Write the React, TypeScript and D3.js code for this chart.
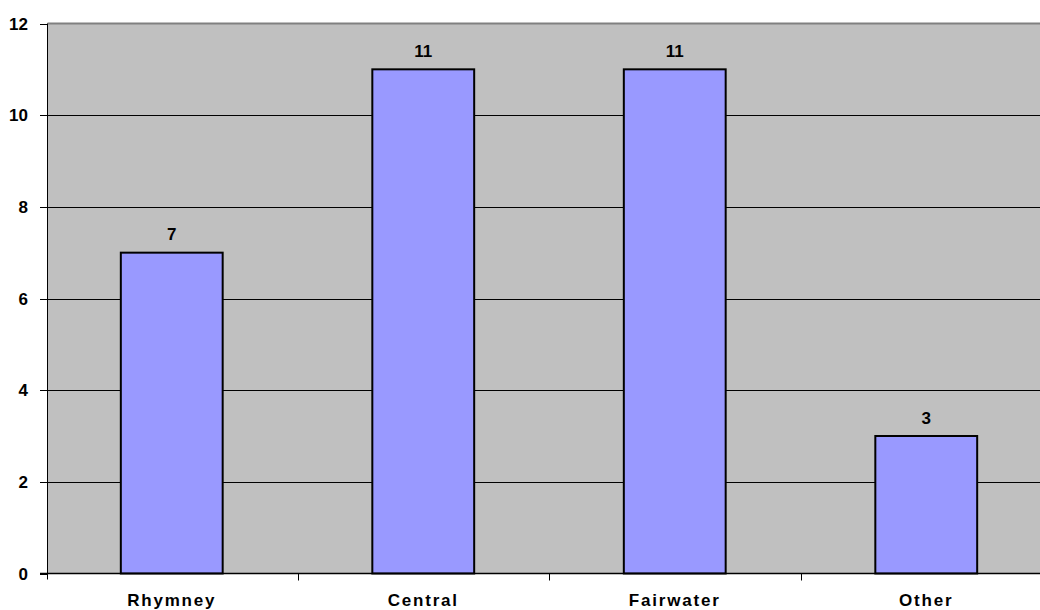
import React from "react";
import * as d3 from "d3";

const categories = ["Rhymney", "Central", "Fairwater", "Other"];
const values = [7, 11, 11, 3];
const yTicks = [0, 2, 4, 6, 8, 10, 12];

const W = 1040;
const H = 610;
const left = 46;
const plotRight = 1052;
const top = 23.5;
const bottom = 573.5;

export default function App() {
  const x = d3.scaleBand<string>().domain(categories).range([left, plotRight]).paddingInner(0).paddingOuter(0);
  const y = d3.scaleLinear().domain([0, 12]).range([bottom, top]);
  const bw = x.bandwidth() * 0.405;
  const font = "Arial, 'Liberation Sans', sans-serif";
  return (
    <svg width={W} height={H} style={{ position: "absolute", left: 0, top: 0, display: "block" }}>
      <rect x={0} y={0} width={W} height={H} fill="#fff" />
      <rect x={47.5} y={top} width={plotRight - left} height={bottom - top} fill="#C0C0C0" />
      {yTicks.filter((t) => t > 0 && t < 12).map((t) => (
        <line key={t} x1={47.5} x2={W} y1={Math.round(y(t)) + 0.5} y2={Math.round(y(t)) + 0.5} stroke="#000" strokeWidth={1} />
      ))}
      <line x1={47.5} x2={W} y1={top} y2={top} stroke="#808080" strokeWidth={2} />
      {categories.map((c, i) => {
        const cx = (x(c) as number) + x.bandwidth() / 2;
        return (
          <g key={c}>
            <rect x={cx - bw / 2} y={y(values[i])} width={bw} height={bottom - y(values[i])} fill="#9999FF" stroke="#000" strokeWidth={2} />
            <text x={cx} y={y(values[i]) - 12.5} textAnchor="middle" fontFamily={font} fontWeight="bold" fontSize={17} fill="#000">{values[i]}</text>
            <text x={cx} y={606} textAnchor="middle" fontFamily={font} fontWeight="bold" fontSize={17} letterSpacing={1.8} fill="#000">{c}</text>
          </g>
        );
      })}
      <line x1={47.5} x2={47.5} y1={top} y2={bottom + 6} stroke="#000" strokeWidth={1} />
      <line x1={40} x2={W} y1={bottom} y2={bottom} stroke="#000" strokeWidth={1.5} />
      {yTicks.map((t) => (
        <g key={t}>
          <line x1={40} x2={47.5} y1={Math.round(y(t)) + 0.5} y2={Math.round(y(t)) + 0.5} stroke="#000" strokeWidth={1} />
          <text x={28} y={y(t) + 6.2} textAnchor="end" fontFamily={font} fontWeight="bold" fontSize={17} fill="#000">{t}</text>
        </g>
      ))}
      {categories.slice(1).map((c) => (
        <line key={c} x1={Math.round(x(c) as number) + 0.5} x2={Math.round(x(c) as number) + 0.5} y1={bottom} y2={bottom + 7} stroke="#000" strokeWidth={1} />
      ))}
    </svg>
  );
}
